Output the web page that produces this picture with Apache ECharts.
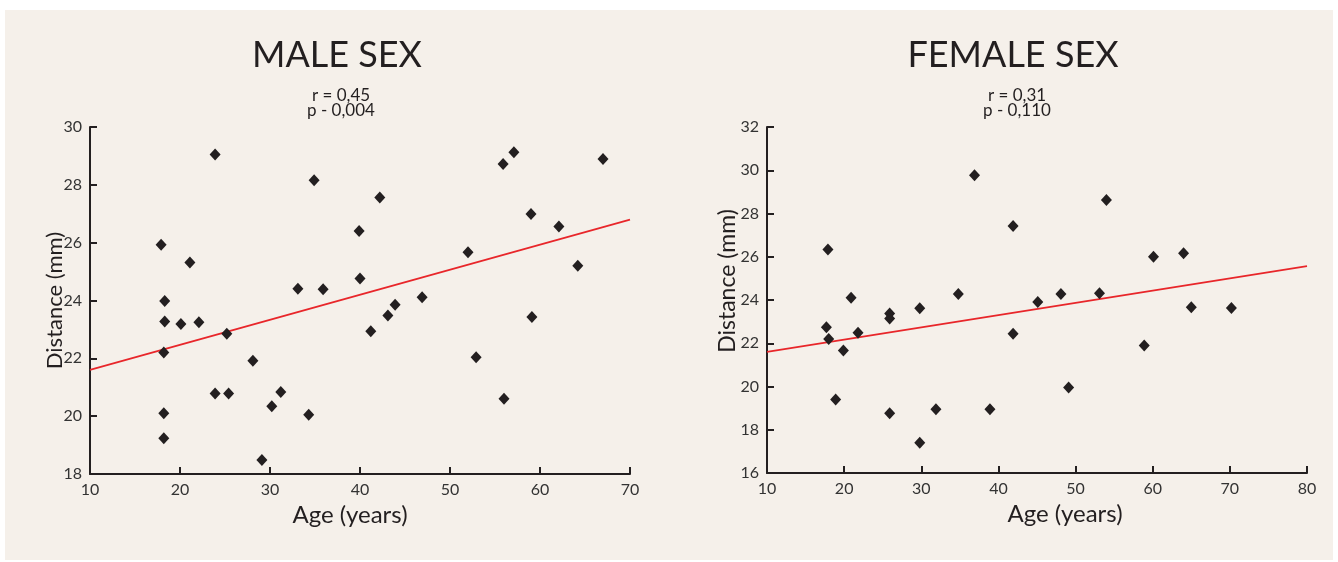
<!DOCTYPE html>
<html>
<head>
<meta charset="utf-8">
<script src="https://cdn.jsdelivr.net/npm/echarts@6/dist/echarts.min.js"></script>
<style>
html,body{margin:0;padding:0;background:#fff;}
#chart{width:1338px;height:562px;}
</style>
</head>
<body>
<div id="chart"></div>
<script>
// ---- Data ----
const maleAge  = [17.9, 18.3, 18.3, 18.2, 18.2, 18.2, 21.1, 20.1, 22.1, 23.9, 23.9, 25.4, 25.2, 28.1, 29.1, 30.2, 31.2, 33.1, 34.3, 34.9, 35.9, 39.9, 40.0, 42.2, 41.2, 43.1, 43.9, 46.9, 52.0, 52.9, 55.9, 57.1, 56.0, 59.0, 59.1, 62.1, 64.2, 67.0];
const maleDist = [25.93, 23.98, 23.27, 22.2, 20.1, 19.24, 25.31, 23.19, 23.25, 29.05, 20.78, 20.78, 22.85, 21.92, 18.48, 20.34, 20.84, 24.41, 20.05, 28.16, 24.39, 26.4, 24.76, 27.56, 22.94, 23.48, 23.85, 24.11, 25.67, 22.04, 28.72, 29.13, 20.6, 26.99, 23.43, 26.56, 25.2, 28.89];
const femaleAge  = [17.9, 20.9, 17.7, 18.0, 19.9, 21.8, 18.9, 25.9, 25.9, 25.9, 29.8, 29.8, 31.9, 34.8, 36.9, 38.9, 41.9, 41.9, 45.1, 48.1, 49.1, 53.1, 54.0, 58.9, 60.1, 64.0, 65.0, 70.2];
const femaleDist = [26.33, 24.1, 22.74, 22.2, 21.66, 22.49, 19.4, 23.38, 23.15, 18.76, 17.4, 23.62, 18.95, 24.28, 29.77, 18.95, 27.42, 22.44, 23.91, 24.28, 19.95, 24.31, 28.62, 21.9, 26.0, 26.16, 23.66, 23.63];
const maleFitX = [10, 70];
const maleFitY = [21.6, 26.8];
const femaleFitX = [10, 80];
const femaleFitY = [21.6, 25.57];
const titles = ['MALE SEX', 'FEMALE SEX'];
const stats = ['r = 0,45\np - 0,004', 'r = 0,31\np - 0,110'];
const xName = 'Age (years)';
const yName = 'Distance (mm)';

const zip = (a, b) => a.map((v, i) => [v, b[i]]);

const FONT = 'Lato';
const INK = '#231f20';
const BG = '#f5f0ea';
const RED = '#e8262a';

function xAxis(gridIndex, max, padding) {
  return {
    type: 'value', gridIndex, min: 10, max, interval: 10,
    name: xName, nameLocation: 'middle', nameGap: 29, nameMoveOverlap: false,
    nameTextStyle: { fontFamily: FONT, fontSize: 24, color: INK, padding },
    axisLine: { show: true, lineStyle: { color: INK, width: 2 } },
    axisTick: { show: true, inside: true, length: 7, lineStyle: { color: INK, width: 2 } },
    axisLabel: { fontFamily: FONT, fontSize: 16, color: '#333', margin: 8 },
    splitLine: { show: false }
  };
}
function yAxis(gridIndex, min, max, gap, fontSize, padding) {
  return {
    type: 'value', gridIndex, min, max, interval: 2,
    name: yName, nameLocation: 'middle', nameGap: gap, nameMoveOverlap: false,
    nameTextStyle: { fontFamily: FONT, fontSize, color: INK, padding },
    axisLine: { show: true, lineStyle: { color: INK, width: 2 } },
    axisTick: { show: true, inside: true, length: 7, lineStyle: { color: INK, width: 2 } },
    axisLabel: { fontFamily: FONT, fontSize: 16, color: '#333', margin: 8 },
    splitLine: { show: false }
  };
}

const chart = echarts.init(document.getElementById('chart'), null, { renderer: 'canvas' });
chart.setOption({
  backgroundColor: '#ffffff',
  animation: false,
  graphic: [{
    type: 'rect', z: -10, silent: true,
    shape: { x: 5, y: 10, width: 1328, height: 550 },
    style: { fill: BG }
  }],
  title: [
    { text: titles[0], left: 337, top: 37, textAlign: 'center', padding: 0,
      textStyle: { fontFamily: FONT, fontSize: 36, fontWeight: 'normal', color: INK } },
    { text: stats[0], left: 341, top: 88, textAlign: 'center', padding: 0,
      textStyle: { fontFamily: FONT, fontSize: 17, lineHeight: 15, fontWeight: 'normal', color: INK } },
    { text: titles[1], left: 1013, top: 37, textAlign: 'center', padding: 0,
      textStyle: { fontFamily: FONT, fontSize: 36, fontWeight: 'normal', color: INK } },
    { text: stats[1], left: 1017, top: 88, textAlign: 'center', padding: 0,
      textStyle: { fontFamily: FONT, fontSize: 17, lineHeight: 15, fontWeight: 'normal', color: INK } }
  ],
  grid: [
    { left: 90, top: 127, width: 540, height: 347 },
    { left: 767, top: 127, width: 540, height: 346 }
  ],
  xAxis: [ xAxis(0, 70, [0, 20, 0, 0]), xAxis(1, 80, [0, 0, 0, 56]) ],
  yAxis: [ yAxis(0, 18, 30, 24, 22, 0), yAxis(1, 16, 32, 28, 23, [0, 0, 0, 38]) ],
  series: [
    { type: 'line', xAxisIndex: 0, yAxisIndex: 0, data: zip(maleFitX, maleFitY),
      symbol: 'none', lineStyle: { color: RED, width: 1.8 }, z: 1 },
    { type: 'scatter', xAxisIndex: 0, yAxisIndex: 0, data: zip(maleAge, maleDist),
      symbol: 'diamond', symbolSize: [11, 12], itemStyle: { color: INK, opacity: 1 }, z: 3 },
    { type: 'line', xAxisIndex: 1, yAxisIndex: 1, data: zip(femaleFitX, femaleFitY),
      symbol: 'none', lineStyle: { color: RED, width: 1.8 }, z: 1 },
    { type: 'scatter', xAxisIndex: 1, yAxisIndex: 1, data: zip(femaleAge, femaleDist),
      symbol: 'diamond', symbolSize: [11, 12], itemStyle: { color: INK, opacity: 1 }, z: 3 }
  ]
});
</script>
</body>
</html>
